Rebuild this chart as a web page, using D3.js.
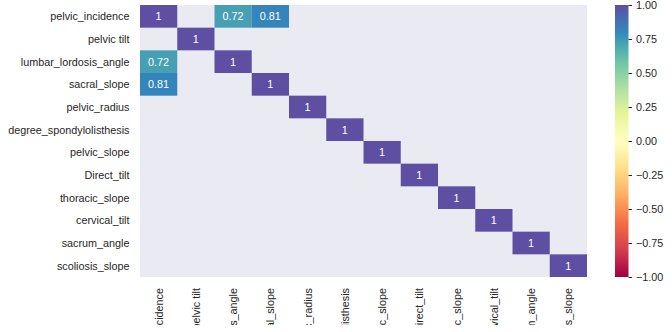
<!DOCTYPE html>
<html><head><meta charset="utf-8">
<script src="https://cdn.jsdelivr.net/npm/d3@7"></script>
<style>html,body{margin:0;padding:0;background:#fff;}svg{display:block;}</style>
</head><body><svg id="c" width="672" height="332"></svg>
<script>
const categories = ["pelvic_incidence","pelvic tilt","lumbar_lordosis_angle","sacral_slope","pelvic_radius","degree_spondylolisthesis","pelvic_slope","Direct_tilt","thoracic_slope","cervical_tilt","sacrum_angle","scoliosis_slope"];
// correlation matrix; null = masked (not shown)
const N = null;
const values = [
  [1, N, 0.72, 0.81, N, N, N, N, N, N, N, N],
  [N, 1, N, N, N, N, N, N, N, N, N, N],
  [0.72, N, 1, N, N, N, N, N, N, N, N, N],
  [0.81, N, N, 1, N, N, N, N, N, N, N, N],
  [N, N, N, N, 1, N, N, N, N, N, N, N],
  [N, N, N, N, N, 1, N, N, N, N, N, N],
  [N, N, N, N, N, N, 1, N, N, N, N, N],
  [N, N, N, N, N, N, N, 1, N, N, N, N],
  [N, N, N, N, N, N, N, N, 1, N, N, N],
  [N, N, N, N, N, N, N, N, N, 1, N, N],
  [N, N, N, N, N, N, N, N, N, N, 1, N],
  [N, N, N, N, N, N, N, N, N, N, N, 1]
];
const colorTicks = [-1, -0.75, -0.5, -0.25, 0, 0.25, 0.5, 0.75, 1];
const spectral = ["#9e0142","#d53e4f","#f46d43","#fdae61","#fee08b","#ffffbf","#e6f598","#abdda4","#66c2a5","#3288bd","#5e4fa2"];

const svg = d3.select("#c");
const font = "Liberation Sans, Arial, sans-serif";
const fs = 10.8;
const mL = 140, mR = 587, mT = 5, mB = 277;

const x = d3.scaleBand().domain(d3.range(categories.length)).range([mL, mR]);
const y = d3.scaleBand().domain(d3.range(categories.length)).range([mT, mB]);
const color = d3.scaleLinear()
  .domain(d3.range(spectral.length).map(i => -1 + 2 * i / (spectral.length - 1)))
  .range(spectral).interpolate(d3.interpolateRgb).clamp(true);

const defs = svg.append("defs");
defs.append("clipPath").attr("id", "xclip").append("rect")
  .attr("x", 0).attr("y", 0).attr("width", 672).attr("height", 325);

svg.append("rect").attr("x", mL).attr("y", mT).attr("width", mR - mL).attr("height", mB - mT).attr("fill", "#eaeaf2");

const cells = [];
values.forEach((row, i) => row.forEach((v, j) => { if (v !== null) cells.push({i, j, v}); }));

svg.append("g").selectAll("rect").data(cells).join("rect")
  .attr("x", d => x(d.j)).attr("y", d => y(d.i))
  .attr("width", x.bandwidth()).attr("height", y.bandwidth())
  .attr("fill", d => color(d.v));

svg.append("g").selectAll("text").data(cells).join("text")
  .attr("x", d => x(d.j) + x.bandwidth() / 2).attr("y", d => y(d.i) + y.bandwidth() / 2)
  .attr("dy", "0.36em").attr("text-anchor", "middle")
  .attr("fill", "#fff").attr("font-family", font).attr("font-size", fs)
  .text(d => d3.format(".2~g")(d.v));

// y labels
svg.append("g").selectAll("text").data(categories).join("text")
  .attr("x", mL - 10.5).attr("y", (d, i) => y(i) + y.bandwidth() / 2)
  .attr("dy", "0.36em").attr("text-anchor", "end")
  .attr("fill", "#262626").attr("font-family", font).attr("font-size", fs)
  .text(d => d);

// x labels rotated (clipped at the figure's bottom edge, as in the reference)
svg.append("g").attr("clip-path", "url(#xclip)").selectAll("text").data(categories).join("text")
  .attr("transform", (d, i) => `translate(${x(i) + x.bandwidth() / 2},${mB + 11}) rotate(-90)`)
  .attr("dy", "0.36em").attr("text-anchor", "end")
  .attr("fill", "#262626").attr("font-family", font).attr("font-size", fs)
  .text(d => d);

// colorbar
const cbx = 615, cbw = 13.5;
const cy = d3.scaleLinear().domain([-1, 1]).range([mB, mT]);
const grad = defs.append("linearGradient").attr("id", "g").attr("x1", 0).attr("x2", 0).attr("y1", 1).attr("y2", 0);
d3.range(0, 1.0001, 0.02).forEach(t => grad.append("stop").attr("offset", t).attr("stop-color", color(-1 + 2 * t)));
svg.append("rect").attr("x", cbx).attr("y", mT).attr("width", cbw).attr("height", mB - mT).attr("fill", "url(#g)");

const cbAxis = d3.axisRight(cy).tickValues(colorTicks).tickSize(3.5).tickPadding(4)
  .tickFormat(d => d3.format(".2f")(d).replace("-", "\u2212"));
const ga = svg.append("g").attr("transform", `translate(${cbx + cbw},0)`).call(cbAxis);
ga.select(".domain").remove();
ga.selectAll("line").attr("stroke", "#262626").attr("stroke-width", 1);
ga.selectAll("text").attr("fill", "#262626").attr("font-family", font).attr("font-size", fs);
</script></body></html>
